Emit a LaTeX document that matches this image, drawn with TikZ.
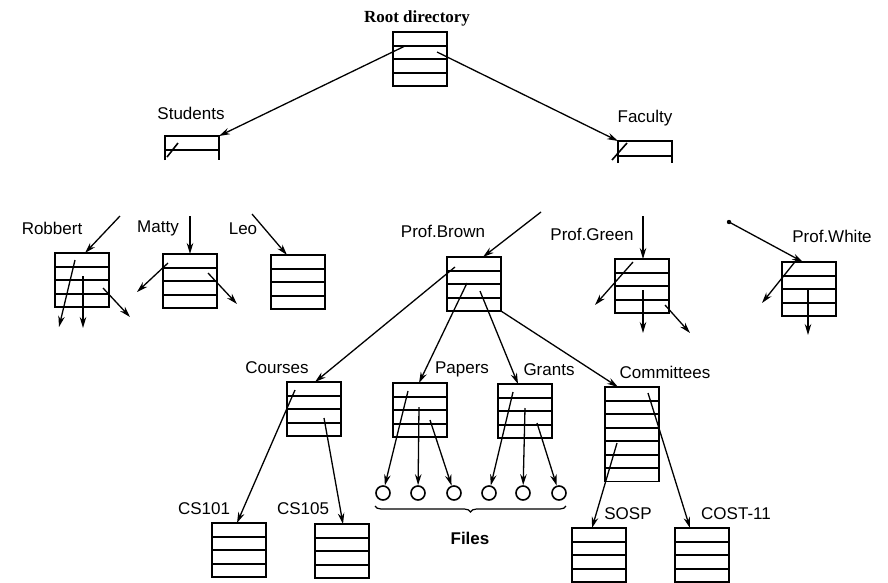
\documentclass[tikz,border=0pt]{standalone}
\usepackage{fontspec}
\setmainfont{Liberation Serif}
\setsansfont{Liberation Sans}
\usetikzlibrary{arrows.meta,decorations.pathreplacing}

\tikzset{
  dirbox/.style={draw, rectangle, minimum width=54pt, inner sep=0pt, outer sep=0pt, anchor=north west},
  lbl/.style={font=\sffamily\fontsize{17}{19}\selectfont, inner sep=0pt},
  ptr/.style={line width=1.3pt, -{Stealth[length=11pt,width=6.5pt]}},
  file/.style={draw, circle, minimum size=14pt, inner sep=0pt},
}

% Verzeichnisblock: Name, x, y (oben links), Zeilen
\newcommand{\dirbox}[4]{%
  \node[dirbox, minimum height=#4*13.5pt] (#1) at (#2,#3) {};
  \pgfmathtruncatemacro{\nlines}{#4-1}
  \foreach \k [evaluate=\k as \yy using round(\k*13.5)] in {1,...,\nlines}
    \draw ([shift={(0,\yy)}]#1.north west) -- ([shift={(0,\yy)}]#1.north east);
}

\begin{document}
\begin{tikzpicture}[x=1pt,y=-1pt,line width=1.6pt]
  \useasboundingbox (0,0) rectangle (888,582);

  % Wurzelverzeichnis
  \node[font=\bfseries\fontsize{17}{19}\selectfont, inner sep=0pt] (t-root) at (417,18) {Root directory};
  \dirbox{root}{393}{32}{4}

  % Students und Faculty (abgeschnitten)
  \node[lbl] (t-students) at (191,113) {Students};
  \node[dirbox, draw=none, minimum height=24pt] (students) at (165,136) {};
  \draw (students.south west) |- (students.north east) -- (students.south east);
  \draw ([shift={(0,14)}]students.north west) -- ([shift={(0,14)}]students.north east);
  \draw ([shift={(2,21)}]students.north west) -- ([shift={(13,7)}]students.north west);

  \node[lbl] (t-faculty) at (645,118) {Faculty};
  \node[dirbox, draw=none, minimum height=22pt] (faculty) at (618,141) {};
  \draw (faculty.south west) |- (faculty.north east) -- (faculty.south east);
  \draw ([shift={(0,15)}]faculty.north west) -- ([shift={(0,15)}]faculty.north east);
  \draw ([shift={(-6,19)}]faculty.north west) -- ([shift={(9,2)}]faculty.north west);

  \draw[ptr] ([shift={(12,14)}]root.north west) -- (students.north east);
  \draw[ptr] ([shift={(44,20)}]root.north west) -- (faculty.north west);

  % Zweite Ebene
  \node[lbl] (t-robbert) at (52,228) {Robbert};
  \node[lbl] (t-matty) at (158,228) {Matty};
  \node[lbl] (t-leo) at (243,229) {Leo};
  \node[lbl] (t-brown) at (443,231) {Prof.Brown};
  \node[lbl] (t-green) at (592,234) {Prof.Green};
  \node[lbl] (t-white) at (832,236) {Prof.White};

  \dirbox{robbert}{55}{253}{4}
  \dirbox{matty}{163}{254}{4}
  \dirbox{leo}{271}{255}{4}
  \dirbox{brown}{447}{257}{4}
  \dirbox{green}{615}{259}{4}
  \dirbox{white}{782}{262}{4}

  % Eingehende Zeiger (oben abgeschnitten)
  \coordinate (in-robbert) at (120,216);
  \coordinate (in-matty) at (190,216);
  \coordinate (in-leo) at (252,214);
  \coordinate (in-brown) at (541,212);
  \coordinate (in-green) at (643,216);
  \coordinate (in-white) at (729,222);
  \draw[ptr] (in-robbert) -- ([shift={(30,0)}]robbert.north west);
  \draw[ptr] (in-matty) -- ([shift={(27,0)}]matty.north west);
  \draw[ptr] (in-leo) -- ([shift={(16,0)}]leo.north west);
  \draw[ptr] (in-brown) -- ([shift={(36,0)}]brown.north west);
  \draw[ptr] (in-green) -- ([shift={(28,0)}]green.north west);
  \fill (in-white) circle (2.2);
  \draw[ptr] (in-white) -- ([shift={(21,0)}]white.north west);

  % Ausgehende Zeiger ohne Ziel
  \coordinate (r1) at (59,327);
  \coordinate (r2) at (83,328);
  \coordinate (r3) at (130,317);
  \draw[ptr] ([shift={(20,7)}]robbert.north west) -- (r1);
  \draw[ptr] ([shift={(28,23)}]robbert.north west) -- (r2);
  \draw[ptr] ([shift={(48,35)}]robbert.north west) -- (r3);
  \coordinate (m1) at (137,292);
  \coordinate (m2) at (237,304);
  \draw[ptr] ([shift={(5,9)}]matty.north west) -- (m1);
  \draw[ptr] ([shift={(45,19)}]matty.north west) -- (m2);
  \coordinate (g1) at (595,305);
  \coordinate (g2) at (643,333);
  \coordinate (g3) at (690,333);
  \draw[ptr] ([shift={(18,3)}]green.north west) -- (g1);
  \draw[ptr] ([shift={(28,31)}]green.north west) -- (g2);
  \draw[ptr] ([shift={(50,46)}]green.north west) -- (g3);
  \coordinate (w1) at (762,303);
  \coordinate (w2) at (808,335);
  \draw[ptr] ([shift={(16,-4)}]white.north west) -- (w1);
  \draw[ptr] ([shift={(26,28)}]white.north west) -- (w2);

  % Dritte Ebene
  \node[lbl] (t-courses) at (277,368) {Courses};
  \node[lbl] (t-papers) at (462,369) {Papers};
  \node[lbl] (t-grants) at (549,370) {Grants};
  \node[lbl] (t-committees) at (665,372) {Committees};

  \dirbox{courses}{287}{382}{4}
  \dirbox{papers}{393}{383}{4}
  \dirbox{grants}{498}{384}{4}
  \dirbox{committees}{605}{387}{7}

  \draw[ptr] ([shift={(8,10)}]brown.north west) -- ([shift={(28,0)}]courses.north west);
  \draw[ptr] ([shift={(20,26)}]brown.north west) -- ([shift={(26,0)}]papers.north west);
  \draw[ptr] ([shift={(33,34)}]brown.north west) -- ([shift={(20,0)}]grants.north west);
  \draw[ptr] (brown.south east) -- ([shift={(13,0)}]committees.north west);

  % Dateien
  \foreach \i/\x in {1/383,2/418,3/454} \node[file] (pf\i) at (\x,493) {};
  \foreach \i/\x in {1/489,2/523,3/559} \node[file] (gf\i) at (\x,493) {};
  \draw[ptr] ([shift={(15,8)}]papers.north west) -- (pf1);
  \draw[ptr] ([shift={(26,24)}]papers.north west) -- (pf2);
  \draw[ptr] ([shift={(37,37)}]papers.north west) -- (pf3);
  \draw[ptr] ([shift={(15,8)}]grants.north west) -- (gf1);
  \draw[ptr] ([shift={(27,24)}]grants.north west) -- (gf2);
  \draw[ptr] ([shift={(39,39)}]grants.north west) -- (gf3);
  \draw[line width=1.2pt, decorate, decoration={brace, mirror, amplitude=6pt}] (375,506) -- (566,506);
  \node[lbl, font=\sffamily\bfseries\fontsize{17}{19}\selectfont] (t-files) at (470,538) {Files};

  % Vierte Ebene
  \node[lbl] (t-cs101) at (204,509) {CS101};
  \node[lbl] (t-cs105) at (303,509) {CS105};
  \node[lbl] (t-sosp) at (628,514) {SOSP};
  \node[lbl] (t-cost) at (736,514) {COST-11};

  \dirbox{cs101}{212}{523}{4}
  \dirbox{cs105}{315}{524}{4}
  \dirbox{sosp}{572}{528}{4}
  \dirbox{cost}{675}{528}{4}

  \draw[ptr] ([shift={(8,8)}]courses.north west) -- ([shift={(25,0)}]cs101.north west);
  \draw[ptr] ([shift={(37,36)}]courses.north west) -- ([shift={(28,0)}]cs105.north west);
  \draw[ptr] ([shift={(12,56)}]committees.north west) -- ([shift={(20,0)}]sosp.north west);
  \draw[ptr] ([shift={(43,6)}]committees.north west) -- ([shift={(15,0)}]cost.north west);
\end{tikzpicture}
\end{document}
